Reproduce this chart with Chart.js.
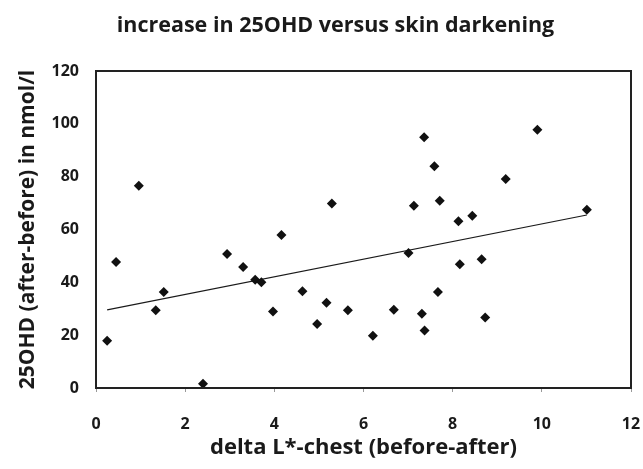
<!DOCTYPE html>
<html>
<head>
<meta charset="utf-8">
<script src="https://cdn.jsdelivr.net/npm/chart.js@4"></script>
<style>
  html, body { margin: 0; padding: 0; background: #fff; }
  #wrap { width: 643px; height: 469px; }
</style>
</head>
<body>
<div id="wrap"><canvas id="scatterChart" width="643" height="469"></canvas></div>
<script>
// points: delta L* (x) vs change in 25OHD (y)
const deltaL = [0.25, 0.45, 0.96, 1.34, 1.52, 2.40, 2.94, 3.30, 3.57, 3.71, 3.97, 4.16,
  4.63, 4.96, 5.17, 5.29, 5.65, 6.21, 6.68, 7.01, 7.13, 7.31, 7.36, 7.37, 7.59, 7.67,
  7.71, 8.13, 8.16, 8.44, 8.65, 8.73, 9.19, 9.90, 11.01];
const ohdIncrease = [17.9, 47.7, 76.6, 29.4, 36.3, 1.6, 50.7, 45.8, 41.0, 40.0, 29.0, 57.9,
  36.6, 24.2, 32.3, 69.8, 29.4, 19.8, 29.6, 51.1, 69.0, 28.1, 94.9, 21.8, 83.9, 36.3,
  70.9, 63.1, 46.8, 65.2, 48.7, 26.7, 79.1, 97.8, 67.5];
// linear trend line, endpoints
const trendX = [0.25, 11.01];
const trendY = [29.6, 65.5];
const xTicks = [0, 2, 4, 6, 8, 10, 12];
const yTicks = [0, 20, 40, 60, 80, 100, 120];
const chartTitle = 'increase in 25OHD versus skin darkening';

const FONT = "'Open Sans', 'Liberation Sans', sans-serif";
const INK = '#1a1a1a';

// box around the plot area + the title (sits a bit right of canvas centre in the original)
const frame = {
  id: 'frame',
  afterDatasetsDraw(chart) {
    const { ctx, chartArea: a } = chart;
    ctx.save();
    ctx.strokeStyle = '#222';
    ctx.lineWidth = 2;
    ctx.strokeRect(a.left, a.top, a.right - a.left, a.bottom - a.top);
    ctx.fillStyle = INK;
    ctx.font = "bold 21.5px " + FONT;
    ctx.textAlign = 'center';
    ctx.textBaseline = 'alphabetic';
    ctx.fillText(chartTitle, 335.5, 32);
    ctx.restore();
  }
};

new Chart(document.getElementById('scatterChart'), {
  type: 'scatter',
  data: {
    datasets: [
      {
        label: 'points',
        data: deltaL.map((x, i) => ({ x, y: ohdIncrease[i] })),
        pointStyle: 'rectRot',
        pointRadius: 5,
        backgroundColor: '#111',
        borderColor: '#111',
        borderWidth: 0,
      },
      {
        label: 'trend',
        data: trendX.map((x, i) => ({ x, y: trendY[i] })),
        showLine: true,
        pointRadius: 0,
        borderColor: INK,
        borderWidth: 1.2,
      }
    ]
  },
  options: {
    responsive: false,
    animation: false,
    layout: { padding: { left: 0, right: 12, top: 71, bottom: 0 } },
    plugins: {
      legend: { display: false },
      tooltip: { enabled: false },
      title: { display: false }
    },
    scales: {
      x: {
        type: 'linear',
        min: 0, max: 12,
        afterBuildTicks: s => { s.ticks = xTicks.map(v => ({ value: v })); },
        afterFit: s => { s.height = 81; s.paddingLeft = 0; s.paddingRight = 0; },
        grid: { display: true, drawOnChartArea: false, drawTicks: true, tickLength: 4, color: '#999' },
        border: { display: true, color: '#222', width: 2 },
        ticks: { color: INK, maxRotation: 0, minRotation: 0, font: { family: FONT, size: 16, weight: 'bold' }, padding: 23 },
        title: {
          display: true,
          text: 'delta L*-chest (before-after)',
          color: INK,
          font: { family: FONT, size: 22, weight: 'bold' },
          padding: { top: 0, bottom: 8 }
        }
      },
      y: {
        type: 'linear',
        min: 0, max: 120,
        afterBuildTicks: s => { s.ticks = yTicks.map(v => ({ value: v })); },
        afterFit: s => { s.width = 96; },
        grid: { display: false },
        border: { display: true, color: '#222', width: 2 },
        ticks: { color: INK, font: { family: FONT, size: 16, weight: 'bold' }, padding: 9 },
        title: {
          display: true,
          text: '25OHD (after-before) in nmol/l',
          color: INK,
          font: { family: FONT, size: 21, weight: 'bold' },
          padding: { top: 15, bottom: 0 }
        }
      }
    }
  },
  plugins: [frame]
});
</script>
</body>
</html>
